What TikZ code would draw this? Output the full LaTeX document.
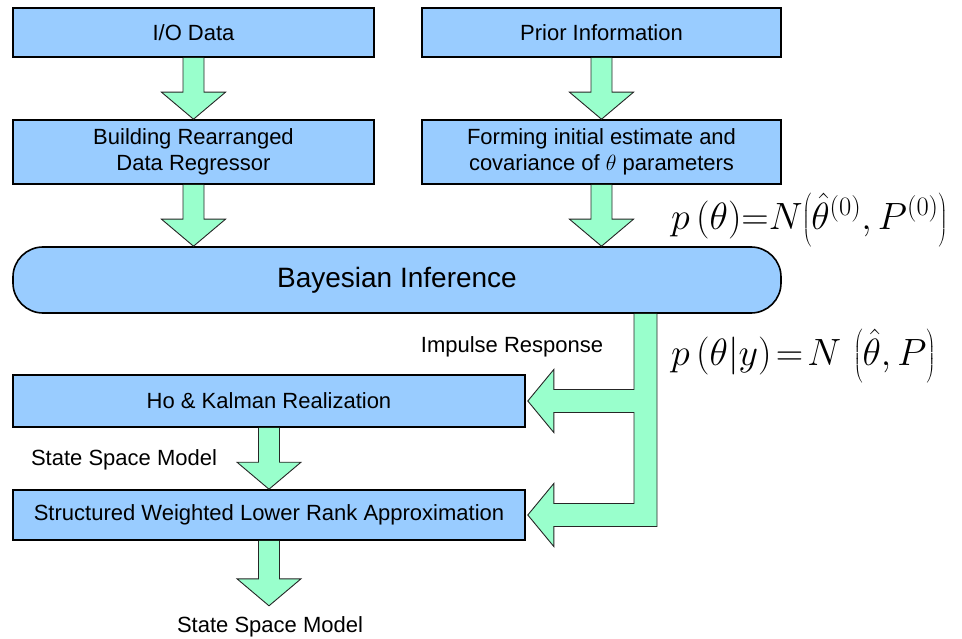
\RequirePackage{fix-cm}
\documentclass[tikz,border=0pt]{standalone}
\usepackage{fontspec}
\setmainfont{Liberation Sans}
\usetikzlibrary{calc}
\definecolor{boxblue}{HTML}{99CCFF}
\definecolor{flowgreen}{HTML}{99FFCC}

% block arrow pointing down from #1 to the tip #2
\newcommand\flowdown[2]{%
  \filldraw[flow] ($(#1)+(-10.5,0)$) -- ($(#2)+(-10.5,-27)$) -- ($(#2)+(-32,-27)$)
    -- (#2) -- ($(#2)+(32,-27)$) -- ($(#2)+(10.5,-27)$) -- ($(#1)+(10.5,0)$);}

\begin{document}
\begin{tikzpicture}[x=1pt,y=-1pt,
  box/.style={draw=black, line width=1.6pt, fill=boxblue, inner sep=0pt,
    align=center, font=\fontsize{22}{26}\selectfont},
  flow/.style={draw=black!85, line width=0.9pt, fill=flowgreen, line join=miter},
  lbl/.style={inner sep=0pt, font=\fontsize{22}{26}\selectfont},
  eq/.style={inner sep=0pt, anchor=west, font=\fontsize{38}{44}\selectfont}]
  \useasboundingbox (0,0) rectangle (962,639);

  % process boxes
  \node[box, minimum width=361pt, minimum height=49pt] (io) at (193.5,32.5) {I/O Data};
  \node[box, minimum width=359pt, minimum height=49pt] (prior) at (601.5,32.5) {Prior Information};
  \node[box, minimum width=361pt, minimum height=64pt] (build) at (193.5,152)
    {Building Rearranged\\Data Regressor};
  \node[box, minimum width=359pt, minimum height=64pt] (form) at (601.5,152)
    {Forming initial estimate and\\covariance of $\theta$ parameters};
  \node[box, rounded corners=30pt, minimum width=768pt, minimum height=66pt,
    font=\fontsize{28}{32}\selectfont] (bay) at (397,280) {Bayesian Inference};
  \node[box, minimum width=512pt, minimum height=52pt] (ho) at (269,401) {Ho \& Kalman Realization};
  \node[box, minimum width=512pt, minimum height=50pt] (sw) at (269,515)
    {Structured Weighted Lower Rank Approximation};

  % labels and densities
  \node[lbl] (imp) at (512,347) {Impulse Response};
  \node[lbl] (ssm1) at (124,460) {State Space Model};
  \node[lbl] (ssm2) at (270,627) {State Space Model};
  \node[eq] (prior-eq) at (671,220)
    {$p\,(\theta){=}N\!\left(\hat{\theta}^{(0)},P^{(0)}\right)$};
  \node[eq] (post-eq) at (671,356)
    {$p\,(\theta|y)\mskip2mu{=}\mskip2mu N\,\left(\hat{\theta},P\right)$};

  % vertical flow arrows
  \coordinate (b1) at (build.south |- bay.north);
  \coordinate (b2) at (form.south |- bay.north);
  \coordinate (out) at ($(sw.south)+(0,65)$);
  \flowdown{io.south}{build.north}
  \flowdown{prior.south}{form.north}
  \flowdown{build.south}{b1}
  \flowdown{form.south}{b2}
  \flowdown{ho.south}{sw.north}
  \flowdown{sw.south}{out}

  % branching arrow from the inference block to the two lower boxes
  \coordinate (sx) at (645.5,0);
  \coordinate (tap) at (sx |- bay.south);
  \coordinate (t1) at ($(ho.east)+(2,0)$);
  \coordinate (t2) at ($(sw.east)+(2,0)$);
  \filldraw[flow] ($(tap)+(-11.5,0)$)
    -- ($(sx |- t1)+(-11.5,-11.5)$) -- ($(t1)+(26,-11.5)$) -- ($(t1)+(26,-31.5)$)
    -- (t1) -- ($(t1)+(26,31.5)$) -- ($(t1)+(26,11.5)$) -- ($(sx |- t1)+(-11.5,11.5)$)
    -- ($(sx |- t2)+(-11.5,-11.5)$) -- ($(t2)+(26,-11.5)$) -- ($(t2)+(26,-31.5)$)
    -- (t2) -- ($(t2)+(26,31.5)$) -- ($(t2)+(26,11.5)$) -- ($(sx |- t2)+(11.5,11.5)$)
    -- ($(tap)+(11.5,0)$);
\end{tikzpicture}
\end{document}
